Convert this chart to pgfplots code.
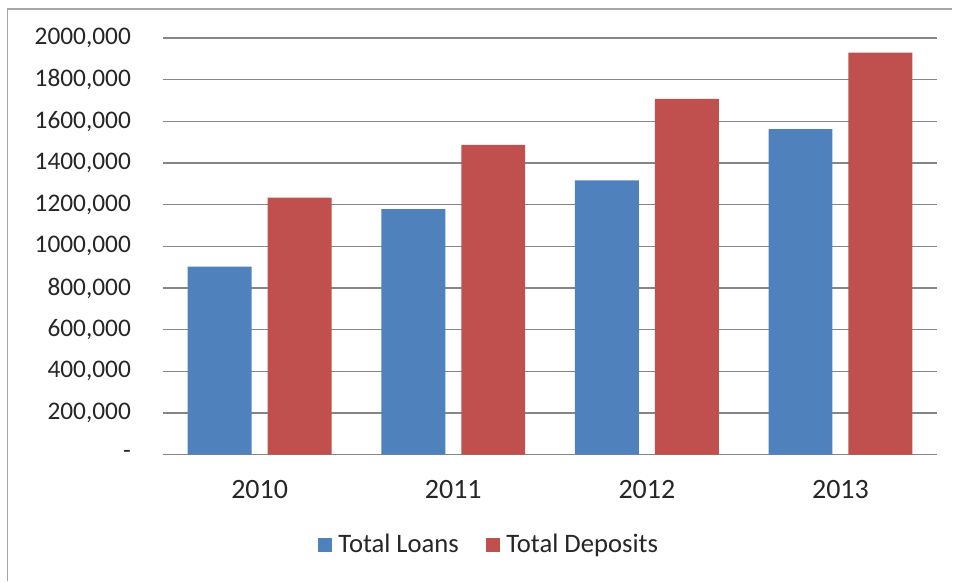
\documentclass[border=0pt]{standalone}
\usepackage{pgfplots}
\pgfplotsset{compat=1.18}
\usepackage{fontspec}
\setmainfont{Carlito}
\definecolor{loanblue}{HTML}{4F81BD}
\definecolor{depred}{HTML}{C0504D}
\definecolor{gridgray}{HTML}{868686}
\definecolor{txt}{HTML}{262626}
\begin{document}
\begin{tikzpicture}[x=0.75pt,y=0.75pt]
\path[fill=white] (0,0) rectangle (953,581);
\draw[gray!70, line width=1.1pt] (7.5,0) -- (7.5,572) -- (953,572);
\begin{axis}[
  at={(163*0.75pt,126*0.75pt)}, anchor=south west,
  scale only axis, width=581.25pt, height=312.75pt,
  ybar, bar width=48pt,
  xmin=-0.5, xmax=3.5, ymin=0, ymax=2000000,
  axis line style={draw=none},
  ymajorgrids, grid style={gridgray, line width=0.8pt},
  xtick={0,1,2,3}, xticklabels={2010,2011,2012,2013},
  ytick={0,200000,400000,600000,800000,1000000,1200000,1400000,1600000,1800000,2000000},
  yticklabels={{-},{200,000},{400,000},{600,000},{800,000},{1000,000},{1200,000},{1400,000},{1600,000},{1800,000},{2000,000}},
  scaled y ticks=false,
  tick style={draw=none},
  ticklabel style={text=txt},
  yticklabel style={font=\fontsize{19pt}{22pt}\selectfont, anchor=east, xshift=-20.5pt},
  xticklabel style={font=\fontsize{21pt}{24pt}\selectfont, yshift=-11.75pt},
  legend style={at={(0.424,-0.216)}, anchor=center, draw=none, legend columns=2,
    font=\fontsize{20pt}{23pt}\selectfont, text=txt,
    nodes={inner sep=4.5pt},
    /tikz/every even column/.append style={column sep=16pt}},
  legend image code/.code={\fill[#1] (0pt,-5.25pt) rectangle (10.5pt,5.25pt);},
]
\draw[gridgray, line width=0.8pt] (axis cs:-0.5,0) -- (axis cs:3.5,0);
\addplot[fill=loanblue, draw=none, bar shift=-30pt] coordinates {(0,903000) (1,1178000) (2,1316000) (3,1563000)};
\addplot[fill=depred, draw=none, bar shift=30pt] coordinates {(0,1234000) (1,1487000) (2,1708000) (3,1930000)};
\legend{Total Loans, Total Deposits}
\end{axis}
\end{tikzpicture}
\end{document}
